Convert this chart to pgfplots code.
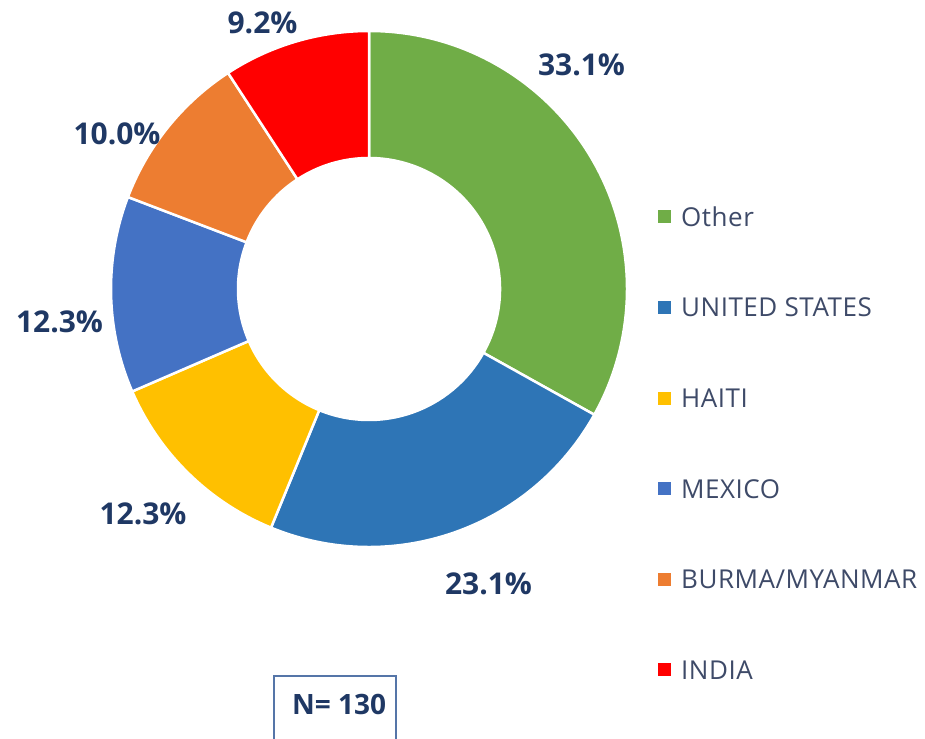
\documentclass[border=0pt]{standalone}
\usepackage{pgfplots}
\usepackage{pgfplotstable}
\pgfplotsset{compat=1.18}
\usepackage{fontspec}
\setmainfont{Open Sans}

\definecolor{cOther}{HTML}{70AD47}
\definecolor{cUS}{HTML}{2E75B6}
\definecolor{cHaiti}{HTML}{FFC000}
\definecolor{cMexico}{HTML}{4472C4}
\definecolor{cBurma}{HTML}{ED7D31}
\definecolor{cIndia}{HTML}{FF0000}
\definecolor{labnavy}{RGB}{31,56,100}
\definecolor{legtext}{RGB}{62,74,104}
\definecolor{boxline}{RGB}{85,117,168}

% share (%), label position in pixels (x, y from top), colour
\pgfplotstableread[col sep=comma]{
name,pct,lx,ly,col
Other,33.1,581.5,64.5,cOther
UNITED STATES,23.1,488.5,584,cUS
HAITI,12.3,143,514,cHaiti
MEXICO,12.3,59.5,321.5,cMexico
BURMA/MYANMAR,10.0,117,133.5,cBurma
INDIA,9.2,262.5,23,cIndia
}\donut

\begin{document}
\begin{tikzpicture}
\begin{axis}[
    x=1pt, y=1pt,
    xmin=0, xmax=925, ymin=0, ymax=738,
    hide axis
]
\pgfplotsextra{
  \coordinate (BL) at (axis cs:0,0);
  \coordinate (TR) at (axis cs:925,738);
  \coordinate (C) at (axis cs:369,449);
  \xdef\acc{90}
  \pgfplotstablegetrowsof{\donut}
  \pgfmathtruncatemacro\lastrow{\pgfplotsretval-1}
  \foreach \i in {0,...,\lastrow}{
    \pgfplotstablegetelem{\i}{pct}\of{\donut}\let\sPct\pgfplotsretval
    \pgfplotstablegetelem{\i}{col}\of{\donut}\let\sCol\pgfplotsretval
    \pgfplotstablegetelem{\i}{name}\of{\donut}\let\sName\pgfplotsretval
    \pgfplotstablegetelem{\i}{lx}\of{\donut}\let\sLx\pgfplotsretval
    \pgfplotstablegetelem{\i}{ly}\of{\donut}\let\sLy\pgfplotsretval
    \pgfmathsetmacro\aStart{\acc}
    \pgfmathsetmacro\aEnd{\acc-3.6*\sPct}
    % wedge
    \fill[\sCol, draw=white, line width=2.5pt]
      ([shift={(\aStart:258pt)}]C) arc[start angle=\aStart, end angle=\aEnd, radius=258pt]
      -- ([shift={(\aEnd:131pt)}]C) arc[start angle=\aEnd, end angle=\aStart, radius=131pt]
      -- cycle;
    % data label
    \node[text=labnavy, inner sep=0, font=\fontsize{30}{36}\selectfont\bfseries]
      at (axis cs:\sLx,{738-\sLy}) {\sPct\%};
    % legend entry
    \pgfmathsetmacro\legY{738-(217+90.6*\i)}
    \fill[\sCol] (axis cs:658,{\legY-6.5}) rectangle ++(13pt,13pt);
    \node[anchor=west, text=legtext, inner sep=0,
          font=\fontsize{26}{31}\selectfont\addfontfeature{LetterSpace=2}]
      at (axis cs:681,\legY) {\sName};
    \xdef\acc{\aEnd}
  }
  % N box, cut by the lower edge
  \draw[boxline, line width=2pt] (axis cs:274,-5) -- (axis cs:274,62) -- (axis cs:396,62) -- (axis cs:396,-5);
  \node[text=labnavy, inner sep=0, font=\fontsize{28}{33}\selectfont\bfseries]
    at (axis cs:339,34) {N= 130};
}
\end{axis}
\pgfresetboundingbox
\path (BL) rectangle (TR);
\end{tikzpicture}
\end{document}
